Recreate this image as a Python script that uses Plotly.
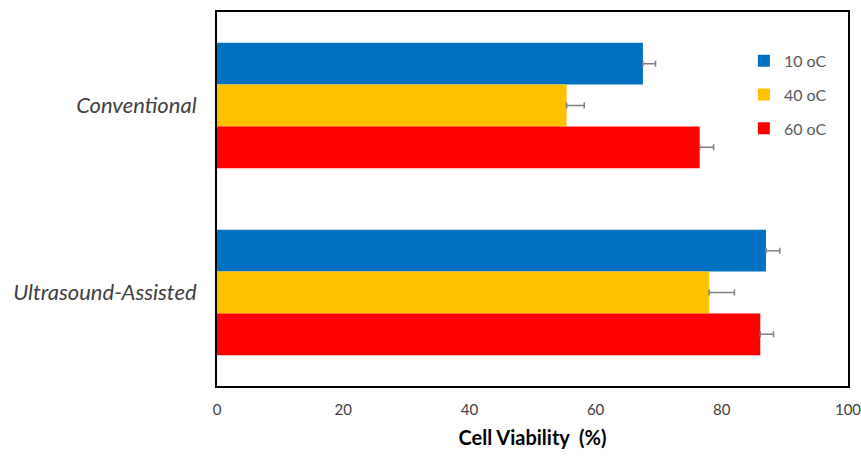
import plotly.graph_objects as go

categories = ["Conventional", "Ultrasound-Assisted"]
series_names = ["10 oC", "40 oC", "60 oC"]
values = {
    "10 oC": [67.5, 87.0],
    "40 oC": [55.4, 78.0],
    "60 oC": [76.5, 86.1],
}
errors = {
    "10 oC": [2.0, 2.2],
    "40 oC": [2.8, 4.0],
    "60 oC": [2.2, 2.1],
}
colors = {"10 oC": "#0070C0", "40 oC": "#FFC000", "60 oC": "#FF0000"}
x_ticks = [0, 20, 40, 60, 80, 100]

FONT = "Lato"
fig = go.Figure()
for name in series_names:
    fig.add_trace(go.Bar(
        name=name,
        y=categories,
        x=values[name],
        orientation="h",
        marker=dict(color=colors[name], line=dict(width=0)),
        legendgroup=name,
        error_x=dict(type="data", array=errors[name], arrayminus=[0, 0],
                     symmetric=False, color="#7F7F7F", thickness=1.5, width=3),
    ))

fig.update_layout(
    width=861, height=458,
    margin=dict(l=217, r=13, t=12, b=72, autoexpand=False),
    paper_bgcolor="white", plot_bgcolor="white",
    barmode="group", bargap=0.33, bargroupgap=0,
    font=dict(family=FONT, color="#404040"),
    legend=dict(x=0.835, y=0.915, xanchor="left", yanchor="top",
                font=dict(size=16, color="#595959", family=FONT),
                traceorder="grouped", tracegroupgap=10,
                bgcolor="rgba(0,0,0,0)", itemwidth=30),
    xaxis=dict(range=[0, 100], tickvals=x_ticks, showgrid=False, zeroline=False,
               automargin=False, ticklabeloverflow="allow",
               showline=True, linecolor="black", linewidth=2, mirror=True,
               ticks="", ticklabelstandoff=9, tickfont=dict(size=15, color="#404040"),
               title=dict(text="<b>Cell Viability  (%)</b>", font=dict(size=20, color="black"),
                          standoff=14)),
    yaxis=dict(categoryorder="array", categoryarray=categories, autorange="reversed",
               automargin=False,
               showgrid=False, zeroline=False, showline=True, linecolor="black",
               linewidth=2, mirror=True, ticks="", ticklabelstandoff=14,
               tickfont=dict(size=22, color="#404040", style="italic")),
)
fig.write_html("out.html")
